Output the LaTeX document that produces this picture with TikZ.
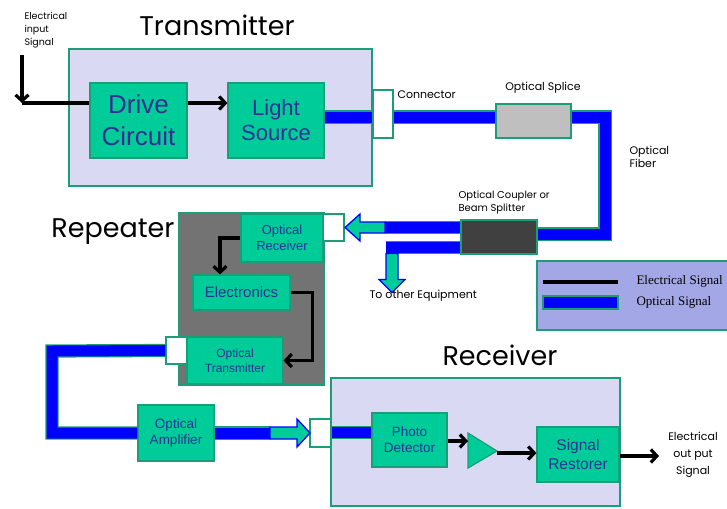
\documentclass[tikz,border=0pt]{standalone}
\usepackage{fontspec}
\setmainfont{Liberation Sans}
\newfontfamily\handfont{Poppins}
\newfontfamily\legendfont{Liberation Serif}
\usetikzlibrary{arrows.meta}
\definecolor{blk-fill}{HTML}{00CC99}
\definecolor{blk-border}{HTML}{1B9E77}
\definecolor{blk-text}{HTML}{2E3192}
\definecolor{unit-fill}{HTML}{D9D9F3}
\definecolor{rep-fill}{HTML}{737373}
\definecolor{fibre-blue}{HTML}{0000FF}
\definecolor{splice-fill}{HTML}{BFBFBF}
\definecolor{coupler-fill}{HTML}{404040}
\definecolor{legend-fill}{HTML}{A3A7E6}
\tikzset{
  unit/.style={
    rectangle, draw=blk-border, fill=unit-fill, line width=1.2pt,
    inner sep=0pt
  },
  blk/.style={
    rectangle, draw=blk-border, fill=blk-fill, line width=1.2pt,
    inner sep=0pt, align=center, text=blk-text
  },
  conn/.style={
    rectangle, draw=blk-border, fill=white, line width=1.2pt, inner sep=0pt
  },
  fibre/.style={
    draw=blk-border, double=fibre-blue, double distance=11pt, line width=1.1pt
  },
  wire/.style={
    draw=black, line width=3.2pt,
    -{Straight Barb[length=6pt, width=13pt]}
  },
  wire-plain/.style={draw=black, line width=3.2pt},
  g-arrow/.style={
    draw=fibre-blue, fill=blk-fill, line width=1.3pt, line join=miter
  },
  sect-title/.style={font=\handfont\fontsize{27}{30}\selectfont},
  hand-note/.style={font=\handfont\fontsize{11}{13}\selectfont, align=left}
}

\begin{document}
\begin{tikzpicture}[x=1pt, y=-1pt]
  \useasboundingbox (0,0) rectangle (727,508);

  % ---- Units ---------------------------------------------------------------
  \node[unit, minimum width=303pt, minimum height=137pt] (tx) at (220.5,117.5) {};
  \node[unit, fill=rep-fill, minimum width=145pt, minimum height=172pt] (rep) at (251.5,299) {};
  \node[unit, minimum width=289pt, minimum height=128pt] (rcv) at (475.5,442) {};
  \node[unit, fill=legend-fill, minimum width=194pt, minimum height=69pt] (legend) at (634,295.5) {};

  \node[sect-title] at (217,25) {Transmitter};
  \node[sect-title] at (113,232) {Repeater};
  \node[sect-title] at (500,355) {Receiver};

  % ---- Blocks --------------------------------------------------------------
  \node[blk, minimum width=97pt, minimum height=75pt, font=\fontsize{26}{32}\selectfont] (drive) at (138.5,120.5) {Drive\\Circuit};
  \node[blk, minimum width=96pt, minimum height=75pt, font=\fontsize{22}{25}\selectfont] (light) at (276,120.5) {Light\\Source};
  \node[conn, minimum width=20pt, minimum height=48pt] (conn1) at (383,114) {};
  \node[blk, fill=splice-fill, minimum width=75pt, minimum height=34pt] (splice) at (533.5,121) {};
  \node[blk, fill=coupler-fill, minimum width=76pt, minimum height=34pt] (coupler) at (499,237) {};

  \node[blk, minimum width=82pt, minimum height=48pt, font=\fontsize{13}{16}\selectfont] (orx) at (282,238) {Optical\\Receiver};
  \node[conn, minimum width=21pt, minimum height=27pt] (conn2) at (333.5,227.5) {};
  \node[blk, minimum width=97pt, minimum height=35pt, font=\fontsize{15}{18}\selectfont] (elec) at (241.5,292.5) {Electronics};
  \node[blk, minimum width=96pt, minimum height=47pt, font=\fontsize{12}{15}\selectfont] (otx) at (235,360.5) {Optical\\Transmitter};
  \node[conn, minimum width=21pt, minimum height=27pt] (conn3) at (176.5,350.5) {};
  \node[blk, minimum width=76pt, minimum height=56pt, font=\fontsize{13.5}{16}\selectfont] (oamp) at (176,433) {Optical\\Amplifier};
  \node[conn, minimum width=21pt, minimum height=28pt] (conn4) at (320.5,433) {};

  \node[blk, minimum width=75pt, minimum height=54pt, font=\fontsize{13.5}{16}\selectfont] (pd) at (409.5,440) {Photo\\Detector};
  \node[blk, minimum width=82pt, minimum height=55pt, font=\fontsize{15.5}{19}\selectfont] (rest) at (578,454.5) {Signal\\Restorer};
  \draw[blk] (468,433) coordinate (tri-a) -- (497,451) coordinate (tri-tip) -- (468,468) -- cycle;

  % ---- Fibre ---------------------------------------------------------------
  \coordinate (fc1) at (605,117);
  \coordinate (fc2) at (605,234);
  \coordinate (fl1) at (52,351);
  \coordinate (fl2) at (52,433);
  \coordinate (ga-left-tail) at (385,227.5);
  \coordinate (ga-down-tail) at (392,247.5);
  \coordinate (ga-right-tail) at (270,433);
  \draw[fibre] (light.east |- fc1) -- (conn1.west |- fc1);
  \draw[fibre] (conn1.east |- fc1) -- (splice.west |- fc1);
  \draw[fibre] (splice.east |- fc1) -- (fc1) -- (fc2) -- (coupler.east |- fc2);
  \draw[fibre] (coupler.west |- ga-left-tail) -- (ga-left-tail);
  \draw[fibre] (coupler.west |- ga-down-tail) -- ([xshift=-6.5pt]ga-down-tail);
  \draw[fibre] (conn3.west) -- (fl1) -- (fl2) -- (oamp.west);
  \draw[fibre] (oamp.east) -- (ga-right-tail);
  \draw[fibre] (conn4.east |- 0,432.5) -- (pd.west |- 0,432.5);

  % ---- Green block arrows --------------------------------------------------
  \draw[g-arrow] (ga-left-tail) ++(0,-5.5) -- ++(-25,0) -- ++(0,-8) -- ++(-15,13.5)
        -- ++(15,13.5) -- ++(0,-8) -- ++(25,0) -- cycle;
  \draw[g-arrow] ([xshift=-6pt, yshift=-6pt]ga-down-tail) -- ++(0,26) -- ++(-7,0) -- ++(13,13)
        -- ++(13,-13) -- ++(-7,0) -- ++(0,-26) -- cycle;
  \draw[g-arrow] (ga-right-tail) ++(0,-6) -- ++(27,0) -- ++(0,-8) -- ++(13,14)
        -- ++(-13,14) -- ++(0,-8) -- ++(-27,0) -- cycle;

  % ---- Electrical signal ---------------------------------------------------
  \coordinate (in-top) at (22,55);
  \coordinate (in-corner) at (22,103);
  \coordinate (out-end) at (659,456);
  \draw[wire] (in-top) -- (in-corner);
  \draw[wire-plain] (in-corner) -- (drive.west |- in-corner);
  \draw[wire] (drive.east |- in-corner) -- (light.west |- in-corner);
  \draw[wire] (orx.west) -| ([xshift=-21.5pt]elec.north);
  \draw[wire] (elec.east) -- ++(22,0) |- (otx.east);
  \draw[wire] (pd.east |- 0,441) -- (tri-a |- 0,441);
  \draw[wire] (tri-tip |- 0,453) -- (rest.west |- 0,453);
  \draw[wire] (rest.east |- out-end) -- (out-end);

  % ---- Notes ---------------------------------------------------------------
  \node[hand-note, font=\handfont\fontsize{9.5}{13}\selectfont, anchor=north west] at (21,9)
        {Electrical\\input\\Signal};
  \node[hand-note, anchor=west] at (394,95) {Connector};
  \node[hand-note] at (543,88) {Optical Splice};
  \node[hand-note, anchor=west] at (626,157) {Optical\\Fiber};
  \node[hand-note, font=\handfont\fontsize{10}{13}\selectfont, anchor=west] at (455,202)
        {Optical Coupler or\\Beam Splitter};
  \node[hand-note, anchor=west] at (366,296) {To other Equipment};
  \node[hand-note, font=\handfont\fontsize{11}{17}\selectfont, align=center] at (693,455)
        {Electrical\\out put\\Signal};

  % ---- Legend --------------------------------------------------------------
  \coordinate (lg-e1) at (543,282);
  \coordinate (lg-e2) at (618,282);
  \draw[wire-plain] (lg-e1) -- (lg-e2);
  \draw[blk-border, fill=fibre-blue, line width=1.2pt] (543,296) rectangle (618,309);
  \node[font=\legendfont\fontsize{13}{15}\selectfont, anchor=west] at (633,281) {Electrical Signal};
  \node[font=\legendfont\fontsize{13}{15}\selectfont, anchor=west] at (633,302) {Optical Signal};

\end{tikzpicture}
\end{document}
